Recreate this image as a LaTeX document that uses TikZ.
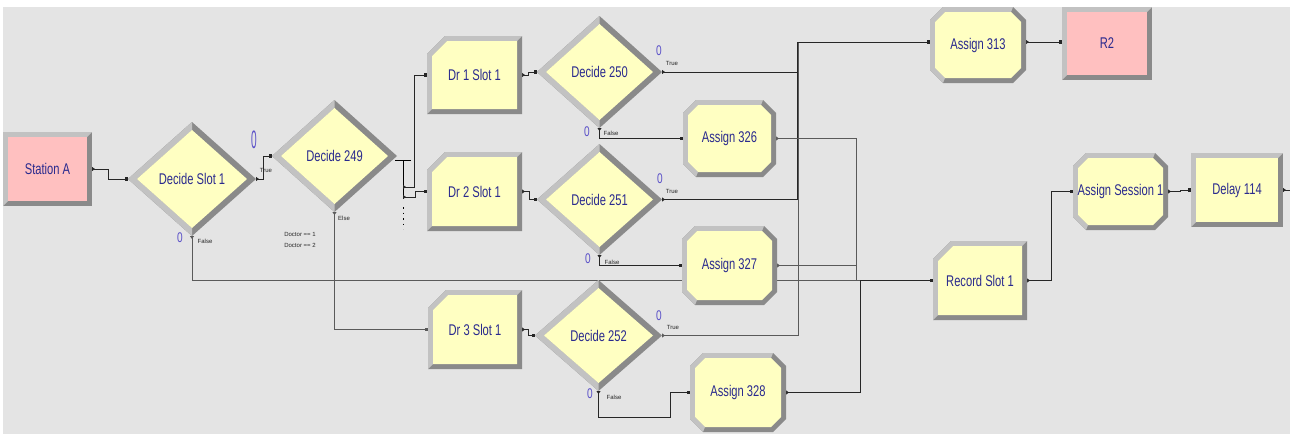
\documentclass[tikz,border=0pt]{standalone}
\usepackage{fontspec}
\usepackage{graphicx}
\usetikzlibrary{calc,arrows.meta}
\newfontfamily\modfont[FakeStretch=0.72]{Liberation Sans}
\newfontfamily\tagfont{Liberation Sans}

\definecolor{canvas}{HTML}{E4E4E4}
\definecolor{modfill}{HTML}{FFFFC2}
\definecolor{termfill}{HTML}{FFC0C0}
\definecolor{bevlight}{HTML}{C2C2C2}
\definecolor{bevdark}{HTML}{8A8A8A}
\definecolor{modtext}{HTML}{2A2A8E}
\definecolor{cnttext}{HTML}{5A50C8}
\definecolor{wiregray}{HTML}{5A5A5A}

\pgfdeclarelayer{wires}
\pgfdeclarelayer{bodies}
\pgfsetlayers{wires,bodies,main}

% plain bevelled box (stations, routes, delays)
\newcommand{\plainbody}[2]{%
  \fill[bevdark] (#1.south west) rectangle (#1.north east);
  \fill[bevlight] let \p1=(#1.south west), \p2=(#1.north east) in
    (\x1,\y1) -- (\x1,\y2) -- (\x2,\y2) -- ({\x2-5pt},{\y2-5pt})
    -- ({\x1+5pt},{\y2-5pt}) -- ({\x1+5pt},{\y1+5pt}) -- cycle;
  \fill[#2] let \p1=(#1.south west), \p2=(#1.north east) in
    ({\x1+5pt},{\y1+5pt}) rectangle ({\x2-5pt},{\y2-5pt});
}
% process box with the upper left corner cut
\newcommand{\procbody}[1]{%
  \fill[bevdark] let \p1=(#1.south west), \p2=(#1.north east) in
    (\x1,\y1) -- (\x1,{\y2-18pt}) -- ({\x1+18pt},\y2) -- (\x2,\y2) -- (\x2,\y1) -- cycle;
  \fill[bevlight] let \p1=(#1.south west), \p2=(#1.north east) in
    (\x1,\y1) -- (\x1,{\y2-18pt}) -- ({\x1+18pt},\y2) -- (\x2,\y2)
    -- ({\x2-5pt},{\y2-5pt}) -- ({\x1+20pt},{\y2-5pt}) -- ({\x1+5pt},{\y2-20pt})
    -- ({\x1+5pt},{\y1+5pt}) -- cycle;
  \fill[modfill] let \p1=(#1.south west), \p2=(#1.north east) in
    ({\x1+5pt},{\y1+5pt}) -- ({\x1+5pt},{\y2-20pt}) -- ({\x1+20pt},{\y2-5pt})
    -- ({\x2-5pt},{\y2-5pt}) -- ({\x2-5pt},{\y1+5pt}) -- cycle;
}
% assign box: octagon
\newcommand{\assignbody}[1]{%
  \fill[bevdark] let \p1=(#1.south west), \p2=(#1.north east) in
    ({\x1+13pt},\y1) -- (\x1,{\y1+13pt}) -- (\x1,{\y2-13pt}) -- ({\x1+13pt},\y2)
    -- ({\x2-13pt},\y2) -- (\x2,{\y2-13pt}) -- (\x2,{\y1+13pt}) -- ({\x2-13pt},\y1) -- cycle;
  \fill[bevlight] let \p1=(#1.south west), \p2=(#1.north east) in
    ({\x1+13pt},\y1) -- (\x1,{\y1+13pt}) -- (\x1,{\y2-13pt}) -- ({\x1+13pt},\y2)
    -- ({\x2-13pt},\y2) -- ({\x2-15pt},{\y2-5pt}) -- ({\x1+15pt},{\y2-5pt})
    -- ({\x1+5pt},{\y2-15pt}) -- ({\x1+5pt},{\y1+15pt}) -- ({\x1+15pt},{\y1+5pt}) -- cycle;
  \fill[modfill] let \p1=(#1.south west), \p2=(#1.north east) in
    ({\x1+15pt},{\y1+5pt}) -- ({\x1+5pt},{\y1+15pt}) -- ({\x1+5pt},{\y2-15pt})
    -- ({\x1+15pt},{\y2-5pt}) -- ({\x2-15pt},{\y2-5pt}) -- ({\x2-5pt},{\y2-15pt})
    -- ({\x2-5pt},{\y1+15pt}) -- ({\x2-15pt},{\y1+5pt}) -- cycle;
}
% decide diamond
\newcommand{\decidebody}[1]{%
  \fill[bevdark] (#1.west) -- (#1.north) -- (#1.east) -- (#1.south) -- cycle;
  \fill[bevlight] let \p1=(#1.west), \p2=(#1.north), \p3=(#1.south) in
    (\p1) -- (\p2) -- (\x2,{\y2-8pt}) -- ({\x1+9pt},\y1) -- (\x3,{\y3+8pt}) -- (\p3) -- cycle;
  \fill[modfill] let \p1=(#1.west), \p2=(#1.north), \p3=(#1.south), \p4=(#1.east) in
    ({\x1+9pt},\y1) -- (\x2,{\y2-8pt}) -- ({\x4-9pt},\y4) -- (\x3,{\y3+8pt}) -- cycle;
}

\begin{document}
\begin{tikzpicture}[x=1pt,y=-1pt,
  mod/.style={rectangle, inner sep=0pt, outer sep=0pt, text=modtext,
    font=\modfont\fontsize{15.5}{16}\selectfont},
  cnt/.style={inner sep=0pt, text=cnttext, font=\modfont\fontsize{14}{14}\selectfont},
  flowtag/.style={inner sep=0pt, text=black!85, font=\tagfont\fontsize{6}{7}\selectfont},
  conn/.style={line width=0.9pt, draw=black!85,
    arrows={Triangle[reversed,length=3pt,width=4pt]-Square[length=3.5pt,width=3.5pt]}},
  tailonly/.style={line width=0.9pt, draw=black!85,
    arrows={Triangle[reversed,length=3pt,width=4pt]-}}]
\useasboundingbox (0,0) rectangle (1290,434);

% modules
\node[mod, minimum width=89pt, minimum height=74pt] (stA) at (47.5,169) {Station A};
\node[mod, minimum width=128pt, minimum height=114pt] (dslot) at (192,179) {Decide Slot 1};
\node[mod, minimum width=125pt, minimum height=112pt] (d249) at (334.5,156) {Decide 249};
\node[mod, minimum width=95pt, minimum height=78pt] (dr1) at (474.5,75) {Dr 1 Slot 1};
\node[mod, minimum width=95pt, minimum height=79pt] (dr2) at (474.5,191.5) {Dr 2 Slot 1};
\node[mod, minimum width=94pt, minimum height=79pt] (dr3) at (475,329.5) {Dr 3 Slot 1};
\node[mod, minimum width=125pt, minimum height=112pt] (d250) at (599.5,72) {Decide 250};
\node[mod, minimum width=125pt, minimum height=111pt] (d251) at (599.5,199.5) {Decide 251};
\node[mod, minimum width=127pt, minimum height=111pt] (d252) at (598.5,335.5) {Decide 252};
\node[mod, minimum width=96pt, minimum height=76pt] (a313) at (978,45) {Assign 313};
\node[mod, minimum width=90pt, minimum height=73pt] (r2) at (1107,43.5) {R2};
\node[mod, minimum width=93pt, minimum height=77pt] (a326) at (729.5,138.5) {Assign 326};
\node[mod, minimum width=95pt, minimum height=79pt] (a327) at (729.5,265.5) {Assign 327};
\node[mod, minimum width=96pt, minimum height=79pt] (a328) at (738,392.5) {Assign 328};
\node[mod, minimum width=94pt, minimum height=79pt] (rec) at (980,280.5) {Record Slot 1};
\node[mod, minimum width=95pt, minimum height=77pt] (asess) at (1120.5,191.5) {Assign Session 1};
\node[mod, minimum width=92pt, minimum height=74pt] (delay) at (1237,190) {Delay 114};

% counters and branch tags
\node[cnt] (cS1t) at (254,140) {\scalebox{1}[1.8]{0}};
\node[cnt] (cS1f) at (180,238) {0};
\node[flowtag] (tS1t) at (266,170) {True};
\node[flowtag] (tS1f) at (205,241) {False};
\node[flowtag] (t249e) at (344,218) {Else};
\node[flowtag] (t249a) at (300,234) {Doctor == 1};
\node[flowtag] (t249b) at (300,245) {Doctor == 2};
\node[cnt] (c250t) at (659,51) {0};
\node[flowtag] (t250t) at (672,63) {True};
\node[cnt] (c250f) at (587,132) {0};
\node[flowtag] (t250f) at (611,133) {False};
\node[cnt] (c251t) at (660,179) {0};
\node[flowtag] (t251t) at (672,191) {True};
\node[cnt] (c251f) at (588,259) {0};
\node[flowtag] (t251f) at (612,262) {False};
\node[cnt] (c252t) at (659,316) {0};
\node[flowtag] (t252t) at (673,327) {True};
\node[cnt] (c252f) at (590,394) {0};
\node[flowtag] (t252f) at (614,397) {False};

% exit points of the n-way decide
\coordinate (d249v) at ([shift={(6pt,-4pt)}]d249.east);
\coordinate (d249o1) at ([shift={(6pt,-31pt)}]d249.east);
\coordinate (d249o2) at ([shift={(6pt,-41pt)}]d249.east);
\coordinate (edgeR) at (1290,190);

\begin{pgfonlayer}{wires}
  \fill[white] (0,0) rectangle (1290,434);
  \fill[canvas] (3,7) rectangle (1290,434);

  % n-way exit bar of Decide 249
  \draw[line width=0.9pt] ([shift={(-2pt,-4pt)}]d249.east) -- ++(16,0);
  \draw[line width=0.9pt] (d249v) -- ++(0,39);
  \draw[line width=0.9pt, dash pattern=on 1.5pt off 4pt] (d249v) ++(0,47) -- ++(0,22);

  \draw[conn] (stA.east) -- ++(16,0) |- (dslot.west);
  \draw[conn] (dslot.east) -- ++(7,0) |- (d249.west);
  \draw[conn, draw=wiregray] (dslot.south) |- (rec.west);
  \draw[conn, draw=wiregray] (d249.south) |- (dr3.west);
  \draw[conn] (d249o1) -- ++(11,0) |- (dr1.west);
  \draw[conn] (d249o2) -- ++(12,0) |- (dr2.west);
  \draw[conn] (dr1.east) -- ++(6,0) |- (d250.west);
  \draw[conn] (dr2.east) -- ++(7,0) |- (d251.west);
  \draw[conn] (dr3.east) -- ++(6,0) |- (d252.west);
  \draw[conn, draw=wiregray] (d252.east) -- ++(136,0) |- ([yshift=3pt]a313.west);
  \draw[conn] (d251.east) -- ++(135,0) |- ([yshift=3pt]a313.west);
  \draw[conn] (d250.east) -- ++(135,0) |- ([yshift=3pt]a313.west);
  \draw[conn] (d250.south) |- (a326.west);
  \draw[conn] (d251.south) |- (a327.west);
  \draw[conn] (d252.south) -- ++(0,26) -| ([xshift=-20pt]a328.west) -- (a328.west);
  \draw[conn, draw=wiregray] (a326.east) -- ++(80,0) |- (rec.west);
  \draw[conn, draw=wiregray] (a327.east) -- ++(79,0) |- (rec.west);
  \draw[conn] (a328.east) -- ++(74,0) |- (rec.west);
  \draw[conn] (rec.east) -- ++(24,0) |- (asess.west);
  \draw[conn] (asess.east) -- ++(12,0) |- (delay.west);
  \draw[conn] ([yshift=3pt]a313.east) -- ([yshift=1.5pt]r2.west);
  \draw[tailonly] (delay.east) -- (edgeR);
\end{pgfonlayer}

\begin{pgfonlayer}{bodies}
  \plainbody{stA}{termfill}
  \plainbody{r2}{termfill}
  \plainbody{delay}{modfill}
  \decidebody{dslot}
  \decidebody{d249}
  \decidebody{d250}
  \decidebody{d251}
  \decidebody{d252}
  \procbody{dr1}
  \procbody{dr2}
  \procbody{dr3}
  \procbody{rec}
  \assignbody{a313}
  \assignbody{a326}
  \assignbody{a327}
  \assignbody{a328}
  \assignbody{asess}
\end{pgfonlayer}
\end{tikzpicture}
\end{document}
